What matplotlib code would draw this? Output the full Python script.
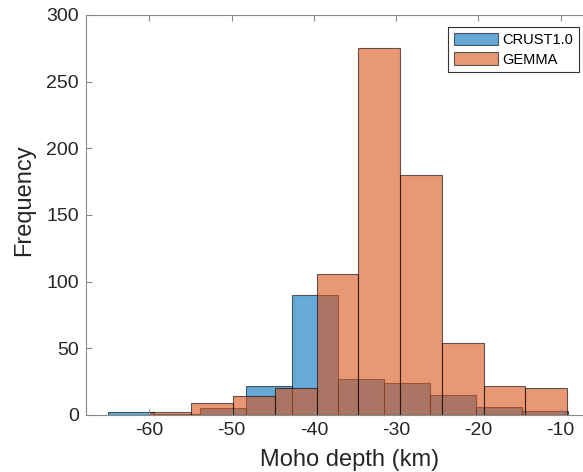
import numpy as np
import matplotlib.pyplot as plt

# Histogram bin edges (km) and counts for each Moho model
crust_edges = [-64.97, -59.39, -53.81, -48.23, -42.65, -37.07,
               -31.49, -25.91, -20.33, -14.75, -9.17]
crust_counts = [2, 1, 5, 22, 90, 27, 24, 15, 6, 3]

gemma_edges = [-60.00, -54.92, -49.84, -44.76, -39.68, -34.60,
               -29.52, -24.44, -19.36, -14.28, -9.20]
gemma_counts = [2, 9, 14, 20, 106, 275, 180, 54, 22, 20]

series_labels = ['CRUST1.0', 'GEMMA']
y_ticks = [0, 50, 100, 150, 200, 250, 300]
x_ticks = [-60, -50, -40, -30, -20, -10]

plt.rcParams['font.family'] = ['Liberation Sans', 'DejaVu Sans']
plt.rcParams['axes.unicode_minus'] = False

fig = plt.figure(figsize=(5.83, 4.72), dpi=100)
ax = fig.add_axes([0.1475, 0.1208, 0.8628, 0.8475])

blue = (0.0, 0.447, 0.741)
orange = (0.850, 0.325, 0.098)

for edges, counts, color, label in [(crust_edges, crust_counts, blue, series_labels[0]),
                                    (gemma_edges, gemma_counts, orange, series_labels[1])]:
    edges = np.array(edges)
    ax.bar(edges[:-1], counts, width=np.diff(edges), align='edge',
           color=color, alpha=0.6, edgecolor='black', linewidth=0.8,
           label=label)

ax.set_xlim(-67.7, -6.56)
ax.set_ylim(0, 300)
ax.set_xticks(x_ticks)
ax.set_yticks(y_ticks)

axis_grey = '#8a8a8a'
text_grey = '#262626'
for sp in ax.spines.values():
    sp.set_color(axis_grey)
    sp.set_linewidth(0.8)
ax.tick_params(direction='in', length=4, width=0.8, color=axis_grey,
               labelcolor=text_grey, labelsize=14, top=True, right=True, pad=5)

ax.set_xlabel('Moho depth (km)', fontsize=17, color=text_grey)
ax.xaxis.set_label_coords(0.524, -0.085)
ax.set_ylabel('Frequency', fontsize=17, color=text_grey)
ax.yaxis.set_label_coords(-0.101, 0.5375)

leg = ax.legend(loc='upper right', bbox_to_anchor=(0.98, 0.97), fontsize=10.5,
                fancybox=False, edgecolor='#333333', framealpha=1,
                handlelength=3.0, handleheight=0.95, handletextpad=0.3,
                borderpad=0.4, labelspacing=0.35, borderaxespad=0)
leg.get_frame().set_linewidth(0.8)

fig.savefig('out.png', dpi=100)
